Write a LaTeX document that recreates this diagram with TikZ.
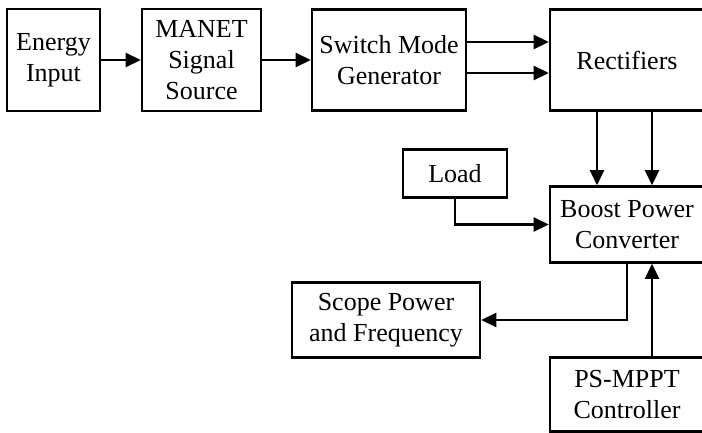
\documentclass[tikz,border=0pt]{standalone}
\usepackage{fontspec}
\setmainfont{Liberation Serif}
\usetikzlibrary{arrows.meta,positioning}

\begin{document}
\begin{tikzpicture}[->,>={Triangle[length=15pt,width=14pt]},line width=2.6pt,
            x=1pt,y=1pt,
            block/.style={draw,rectangle,align=center,inner sep=2pt,
                font=\fontsize{26}{31.2}\selectfont}]
            \useasboundingbox (0,0) rectangle (702,432);
            % Define the blocks as nodes
            \node[block,minimum width=93pt,minimum height=102pt] (energy) at (53.5,372) {Energy\\Input};
            \node[block,minimum width=119pt,minimum height=102pt] (manet) [node distance=148pt,right of=energy] {MANET\\Signal\\Source};
            \node[block,minimum width=154pt,minimum height=101pt] (switch) [node distance=187.5pt,right of=manet] {Switch Mode\\Generator};
            \node[block,minimum width=154pt,minimum height=101pt] (rect) [node distance=238pt,right of=switch] {Rectifiers};
            \node[block,minimum width=154pt,minimum height=76pt] (boost) [node distance=164.5pt,below of=rect] {Boost Power\\Converter};
            \node[block,minimum width=154pt,minimum height=74pt] (mppt) [node distance=170pt,below of=boost] {PS-MPPT\\Controller};
            \node[block,minimum width=104pt,minimum height=48pt] (load) [node distance=172pt,left of=boost,yshift=51pt] {Load};
            \node[block,minimum width=188pt,minimum height=75pt] (scope) [node distance=241pt,left of=boost,yshift=-95.5pt] {Scope Power\\and Frequency};

            % Connect the blocks with arrows
            \draw (energy.east) -- (manet.west);
            \draw (manet.east) -- (switch.west);
            \draw ([yshift=18pt]switch.east) -- ([yshift=18pt]rect.west);
            \draw ([yshift=-13pt]switch.east) -- ([yshift=-13pt]rect.west);
            \draw ([xshift=-30pt]rect.south) -- ([xshift=-30pt]boost.north);
            \draw ([xshift=25pt]rect.south) -- ([xshift=25pt]boost.north);
            \draw (load.south) |- (boost.west);
            \draw (boost.south) |- (scope.east);
            \draw ([xshift=25pt]mppt.north) -- ([xshift=25pt]boost.south);

        \end{tikzpicture}
\end{document}
